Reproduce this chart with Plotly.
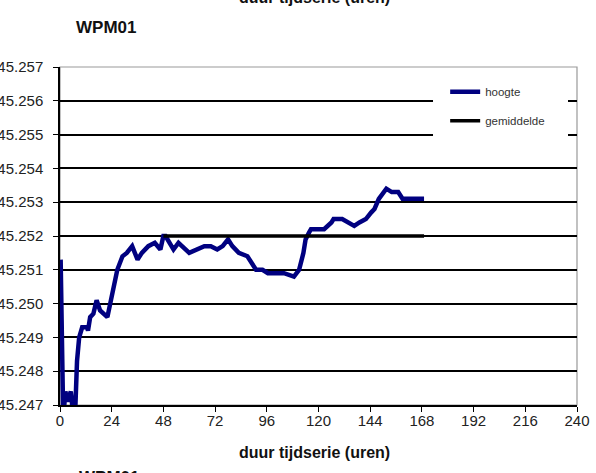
import plotly.graph_objects as go

# hours since start of the time series
uren = [0.3, 1.5, 2.5, 3.5, 5, 6, 7, 7.9, 8.9, 10.3, 12.6, 13, 14, 15.5, 17, 18.6,
        22, 24, 26.6, 29, 31, 33.5, 36, 38, 41, 44, 46.6, 48, 49, 52.7, 55, 60,
        64, 67, 70, 73, 75.5, 78, 80, 83, 87, 91, 94, 96.5, 100, 104, 108.6, 111,
        113, 114, 115.6, 116.5, 119, 122.6, 126, 127, 131, 134, 136.6, 139, 142,
        144.5, 146, 148, 151.5, 154, 157, 159, 163, 169]
hoogte = [45.2513, 45.2466, 45.2474, 45.2471, 45.2474, 45.2468, 45.2467, 45.2483,
          45.2490, 45.2493, 45.2493, 45.2492, 45.2496, 45.2497, 45.2501, 45.2498,
          45.2496, 45.2502, 45.2510, 45.2514, 45.2515, 45.2517, 45.2513, 45.2515,
          45.2517, 45.2518, 45.2516, 45.2520, 45.2520, 45.2516, 45.2518, 45.2515,
          45.2516, 45.2517, 45.2517, 45.2516, 45.2517, 45.2519, 45.2517, 45.2515,
          45.2514, 45.2510, 45.2510, 45.2509, 45.2509, 45.2509, 45.2508, 45.2510,
          45.2515, 45.2519, 45.2521, 45.2522, 45.2522, 45.2522, 45.2524, 45.2525,
          45.2525, 45.2524, 45.2523, 45.2524, 45.2525, 45.2527, 45.2528, 45.2531,
          45.2534, 45.2533, 45.2533, 45.2531, 45.2531, 45.2531]

gem_uren = [48, 169]
gemiddelde = [45.2520, 45.2520]

x_ticks = [0, 24, 48, 72, 96, 120, 144, 168, 192, 216, 240]

FONT = "Liberation Sans, Arial, sans-serif"

fig = go.Figure()
fig.add_trace(go.Scatter(x=uren, y=hoogte, mode="lines", name="hoogte",
                         legendgroup="a",
                         line=dict(color="#000080", width=4.5)))
fig.add_trace(go.Scatter(x=gem_uren, y=gemiddelde, mode="lines", name="gemiddelde",
                         legendgroup="b",
                         line=dict(color="black", width=3.5)))

fig.update_layout(
    width=596, height=473,
    margin=dict(l=60, r=19, t=67, b=68, autoexpand=False),
    paper_bgcolor="white", plot_bgcolor="white",
    font=dict(family=FONT, size=15, color="#222"),
    showlegend=True,
    legend=dict(x=0.745, y=0.97, xanchor="left", yanchor="top",
                bgcolor="white", borderwidth=0,
                font=dict(size=11.5, color="#333"),
                tracegroupgap=10, itemwidth=30),
    shapes=[
        dict(type="rect", xref="paper", yref="paper", x0=0, x1=1, y0=0, y1=1,
             line=dict(color="#999", width=1.2), layer="below"),
        # white legend area that hides the gridlines behind it
        dict(type="rect", xref="paper", yref="paper", x0=0.7215, x1=0.9826,
             y0=0.76, y1=0.967, fillcolor="white", line=dict(width=0),
             layer="above"),
    ],
)
fig.update_xaxes(range=[0, 240], tickvals=x_ticks, showgrid=False,
                 showline=True, linecolor="black", linewidth=1.5,
                 ticks="outside", ticklen=5, tickcolor="black",
                 tickfont=dict(size=15), zeroline=False, automargin=False,
                 ticklabelstandoff=-4)
fig.update_yaxes(range=[45.247, 45.257], dtick=0.001, tickformat=".3f",
                 showgrid=True, gridcolor="black", gridwidth=1.5,
                 showline=True, linecolor="black", linewidth=1.5,
                 ticks="outside", ticklen=5, tickcolor="black",
                 tickfont=dict(size=15), zeroline=False, automargin=False,
                 ticklabelstandoff=7)

fig.add_annotation(text="<b>WPM01</b>", xref="paper", yref="paper",
                   x=0.028, y=1.117, xanchor="left", yanchor="middle",
                   showarrow=False, font=dict(size=17, color="#111"))
fig.add_annotation(text="<b>duur tijdserie (uren)</b>", xref="paper", yref="paper",
                   x=0.493, y=-0.142, xanchor="center", yanchor="middle",
                   showarrow=False, font=dict(size=16, color="#111"))
# pieces of neighbouring charts that are cut off at the edges
fig.add_annotation(text="<b>duur tijdserie (uren)</b>", xref="paper", yref="paper",
                   x=0.493, y=1.206, xanchor="center", yanchor="middle",
                   showarrow=False, font=dict(size=16, color="#111"))
fig.add_annotation(text="<b>WPM01</b>", xref="paper", yref="paper",
                   x=0.033, y=-0.214, xanchor="left", yanchor="middle",
                   showarrow=False, font=dict(size=17, color="#111"))

# drop the default body margin so the figure sits flush with the window
fig.write_html("out.html", config={"displayModeBar": False},
               post_script="document.body.style.margin='0';")
